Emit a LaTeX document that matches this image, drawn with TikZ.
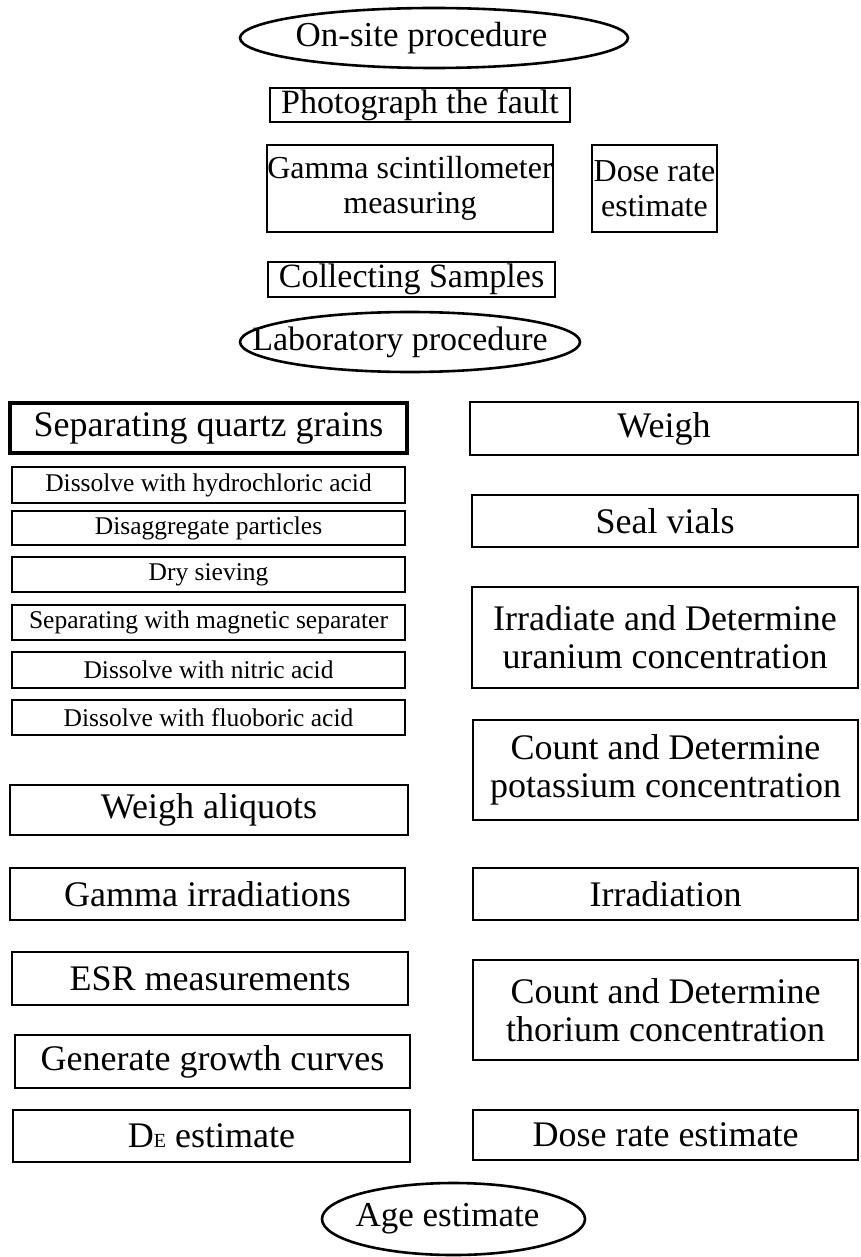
\documentclass[tikz,border=0pt]{standalone}
\usepackage{fontspec}
\setmainfont{Liberation Serif}
\usetikzlibrary{shapes.geometric}
\tikzset{
  bx/.style={draw=black, line width=2.6pt, rectangle, inner sep=0pt, align=center,
             font=\fontsize{36}{38}\selectfont},
  sbx/.style={draw=black, line width=1.5pt, rectangle, inner sep=0pt, align=center,
             font=\fontsize{25.5}{28}\selectfont},
  tbx/.style={bx, font=\fontsize{34}{36}\selectfont},
  ell/.style={draw=black, line width=2.6pt, ellipse, inner sep=0pt,
             font=\fontsize{35}{38}\selectfont}
}
\begin{document}
\begin{tikzpicture}[x=1pt,y=-1pt]
\useasboundingbox (0,0) rectangle (860,1257);
% on-site part
\node[ell, minimum width=388, minimum height=60] (onsite) at (434,38) {\makebox[0pt]{\hspace*{-25pt}On-site procedure}};
\node[tbx, minimum width=300, minimum height=34] (photo) at (420,105) {Photograph the fault};
\node[tbx, font=\fontsize{32}{35}\selectfont, minimum width=286, minimum height=87] (gamma) at (410,188.5) {Gamma scintillometer\\measuring};
\node[tbx, font=\fontsize{32}{35}\selectfont, minimum width=125, minimum height=87] (dose1) at (654.5,188.5) {Dose rate\\estimate};
\node[tbx, minimum width=287, minimum height=35] (collect) at (411.5,279.5) {Collecting Samples};
\node[ell, font=\fontsize{34}{36}\selectfont, minimum width=340, minimum height=60] (lab) at (410,342) {\makebox[0pt]{\hspace*{-20pt}Laboratory procedure}};
% left column
\node[bx, line width=3.4pt, minimum width=397, minimum height=50] (sqg) at (208.5,428) {Separating quartz grains};
\node[sbx, minimum width=393, minimum height=36] (d1) at (208.5,485) {Dissolve with hydrochloric acid};
\node[sbx, minimum width=393, minimum height=34] (d2) at (208.5,528) {Disaggregate particles};
\node[sbx, minimum width=393, minimum height=35] (d3) at (208.5,574.5) {Dry sieving};
\node[sbx, minimum width=393, minimum height=35] (d4) at (208.5,622.5) {Separating with magnetic separater};
\node[sbx, minimum width=393, minimum height=36] (d5) at (208.5,670) {Dissolve with nitric acid};
\node[sbx, minimum width=393, minimum height=35] (d6) at (208.5,717.5) {Dissolve with fluoboric acid};
\node[bx, minimum width=398, minimum height=50] (wal) at (209,810) {Weigh aliquots};
\node[bx, minimum width=395, minimum height=52] (gir) at (207.5,894) {Gamma irradiations};
\node[bx, minimum width=396, minimum height=53] (esr) at (210,978.5) {ESR measurements};
\node[bx, minimum width=395, minimum height=53] (ggc) at (212.5,1061.5) {Generate growth curves};
\node[bx, minimum width=397, minimum height=52] (de) at (211.5,1136) {D{\fontsize{20}{20}\selectfont E} estimate};
% right column
\node[bx, minimum width=388, minimum height=53] (weigh) at (664,428.5) {Weigh};
\node[bx, minimum width=386, minimum height=52] (seal) at (665,521) {Seal vials};
\node[bx, minimum width=386, minimum height=101] (uran) at (665,637.5) {Irradiate and Determine\\uranium concentration};
\node[bx, minimum width=385, minimum height=100] (potas) at (665.5,770) {Count and Determine\\potassium concentration};
\node[bx, minimum width=385, minimum height=52] (irr) at (665.5,894) {Irradiation};
\node[bx, minimum width=385, minimum height=100] (thor) at (665.5,1010) {Count and Determine\\thorium concentration};
\node[bx, minimum width=385, minimum height=50] (drate) at (665.5,1135) {Dose rate estimate};
% final
\node[ell, minimum width=263, minimum height=72] (age) at (453.5,1219) {\makebox[0pt]{\hspace*{-12pt}Age estimate}};
\end{tikzpicture}
\end{document}
